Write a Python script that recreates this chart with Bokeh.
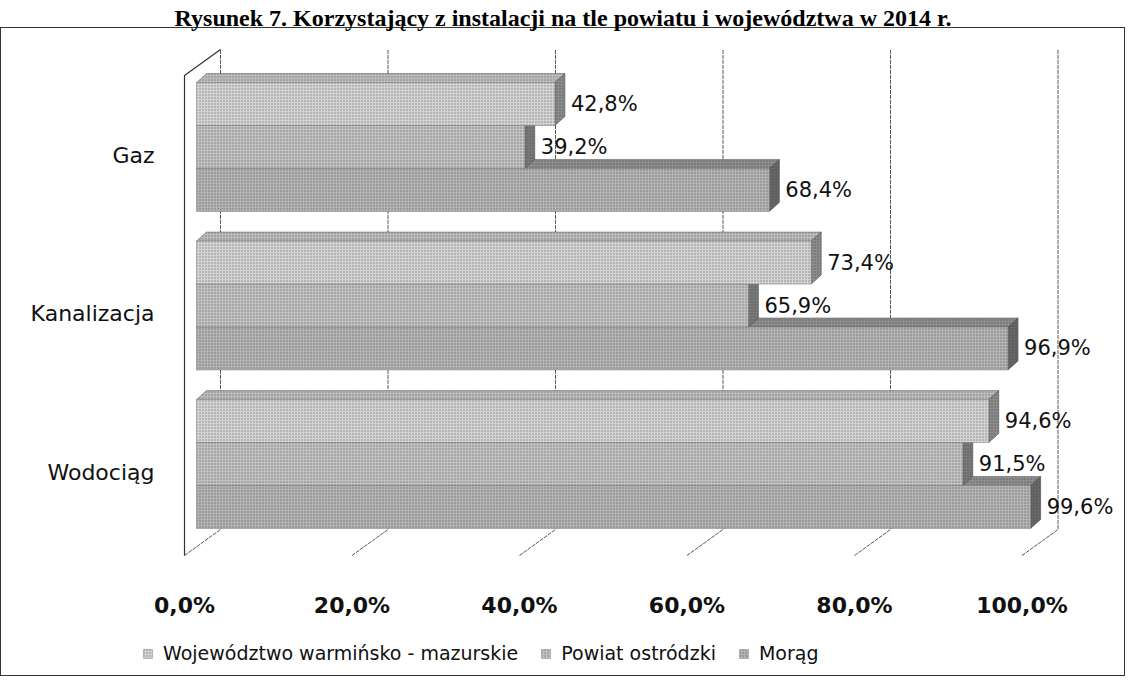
from bokeh.plotting import figure
from bokeh.models import Range1d, FixedTicker, Legend, LegendItem
from bokeh.embed import file_html
from bokeh.resources import INLINE
from bokeh.core.properties import value

# ---------------- data ----------------
title_text = "Rysunek 7. Korzystający z instalacji na tle powiatu i województwa w 2014 r."
categories = ["Gaz", "Kanalizacja", "Wodociąg"]
series_names = ["Województwo warmińsko - mazurskie", "Powiat ostródzki", "Morąg"]
woj = [42.8, 73.4, 94.6]
powiat = [39.2, 65.9, 91.5]
morag = [68.4, 96.9, 99.6]
tick_values = [0, 20, 40, 60, 80, 100]
tick_labels = ["0,0%", "20,0%", "40,0%", "60,0%", "80,0%", "100,0%"]

series_values = [woj, powiat, morag]

# ---------------- layout / style ----------------
W, H = 1125, 668
TITLE_PANEL = 24        # height taken by the title above the frame
FRAME_W = W
FRAME_H = H - TITLE_PANEL
PX_PER_PCT = 8.375
PX_PER_CAT = 158.5
ZERO_X_PX = 184         # frame left -> 0% on front plane
LAST_CAT_Y_PX = 439.5   # frame top -> centre of last category (front plane)
FLOOR_BELOW_PX = 83.5   # floor front edge below last category centre
WALL_ABOVE_PX = 79.5    # wall top above first category centre
XAXIS_BELOW_PX = 93.5   # x axis line below last category centre
YAXIS_LEFT_PX = 12      # y axis line left of 0%
BAR_H = 0.271           # in category units
BORDER_TOP = 27         # canvas px of the chart-area border top line

def off(dx_px, dy_px):
    return dx_px / PX_PER_PCT, -dy_px / PX_PER_CAT

FRONT_DX, FRONT_DY = off(12, -8)   # bar front face from front plane
DEPTH_DX, DEPTH_DY = off(10, -9)   # bar depth
BACK_DX, BACK_DY = off(36, -26)    # back wall from front plane
LABEL_DX = 28 / PX_PER_PCT

x0 = -ZERO_X_PX / PX_PER_PCT
x1 = x0 + FRAME_W / PX_PER_PCT
y0 = -(FRAME_H - LAST_CAT_Y_PX) / PX_PER_CAT
y1 = y0 + FRAME_H / PX_PER_CAT

n = len(categories)
ys = [n - 1 - i for i in range(n)]
FLOOR = -FLOOR_BELOW_PX / PX_PER_CAT
CEIL = (n - 1) + WALL_ABOVE_PX / PX_PER_CAT

front_colors = ["#d4d4d4", "#c2c2c2", "#b4b4b4"]
top_colors = ["#bdbdbd", "#a8a8a8", "#8e8e8e"]
side_colors = ["#8c8c8c", "#7a7a7a", "#686868"]
FONT = "DejaVu Sans"
LINE = "linear-gradient(#333333, #333333)"

p = figure(frame_width=FRAME_W, frame_height=FRAME_H, output_backend="svg",
           toolbar_location=None,
           x_range=Range1d(x0, x1), y_range=Range1d(y0, y1),
           min_border_left=0, min_border_right=0,
           min_border_top=0, min_border_bottom=0)
p.outline_line_color = None
p.xgrid.visible = False
p.ygrid.visible = False
p.background_fill_color = None
p.border_fill_color = None
# thin border around the chart area (below the title), drawn behind the transparent canvas
p.styles = {
    "background-color": "white",
    "background-image": ", ".join([LINE] * 4),
    "background-size": f"100% 1px, 100% 1px, 1px calc(100% - {BORDER_TOP}px), 1px calc(100% - {BORDER_TOP}px)",
    "background-position": f"0 {BORDER_TOP}px, 0 100%, 0 {BORDER_TOP}px, 100% {BORDER_TOP}px",
    "background-repeat": "no-repeat",
}

# title
p.title.text = title_text
p.title.text_font = "Liberation Serif"
p.title.text_font_style = "bold"
p.title.text_font_size = "24px"
p.title.text_color = "#000000"
p.title.align = "center"
p.title.standoff = 4

# gridlines: back wall verticals + floor diagonals
gx, gy = [], []
for t in tick_values:
    gx.append([t, t + BACK_DX, t + BACK_DX])
    gy.append([FLOOR, FLOOR + BACK_DY, CEIL + BACK_DY])
p.multi_line(gx, gy, line_color="#555555", line_width=1, line_dash="4 1")
# left wall
p.line([0, 0, BACK_DX], [FLOOR, CEIL, CEIL + BACK_DY], line_color="#333333", line_width=1.2)

# bars (draw lowest series of each group first)
legend_renderers = {}
for s in reversed(range(len(series_values))):
    vals = series_values[s]
    lefts, rights, tops, bottoms = [], [], [], []
    top_xs, top_ys, side_xs, side_ys = [], [], [], []
    for i, v in enumerate(vals):
        t = ys[i] + 1.5 * BAR_H - s * BAR_H + FRONT_DY
        b = t - BAR_H
        l = 0 + FRONT_DX
        r = v + FRONT_DX
        lefts.append(l); rights.append(r); tops.append(t); bottoms.append(b)
        top_xs.append([l, r, r + DEPTH_DX, l + DEPTH_DX])
        top_ys.append([t, t, t + DEPTH_DY, t + DEPTH_DY])
        side_xs.append([r, r + DEPTH_DX, r + DEPTH_DX, r])
        side_ys.append([t, t + DEPTH_DY, b + DEPTH_DY, b])
    hatch = dict(hatch_pattern="dot", hatch_color="#2e2e2e", hatch_alpha=0.5,
                 hatch_scale=3, hatch_weight=1)
    p.patches(top_xs, top_ys, fill_color=top_colors[s], line_color="#555555",
              line_width=0.5, **hatch)
    p.patches(side_xs, side_ys, fill_color=side_colors[s], line_color="#444444",
              line_width=0.5, **hatch)
    r_front = p.quad(left=lefts, right=rights, top=tops, bottom=bottoms,
                     fill_color=front_colors[s], line_color="#777777", line_width=0.5, **hatch)
    legend_renderers[s] = r_front
    # value labels
    lab_x = [v + LABEL_DX for v in vals]
    lab_y = [(tops[i] + bottoms[i]) / 2 for i in range(len(vals))]
    lab_t = [f"{v:.1f}".replace(".", ",") + "%" for v in vals]
    p.text(x=lab_x, y=lab_y, text=lab_t, text_font=value(FONT), text_font_size="21px",
           text_align="left", text_baseline="middle", text_color="#111111")

# axes (drawn at fixed positions inside the frame)
p.xaxis.fixed_location = -XAXIS_BELOW_PX / PX_PER_CAT
p.xaxis.ticker = FixedTicker(ticks=tick_values)
p.xaxis.major_label_overrides = {t: lab for t, lab in zip(tick_values, tick_labels)}
p.xaxis.axis_line_color = None
p.xaxis.major_tick_line_color = None
p.xaxis.minor_tick_line_color = None
p.xaxis.major_label_standoff = 21
p.xaxis.major_label_text_font = FONT
p.xaxis.major_label_text_font_size = "22px"
p.xaxis.major_label_text_font_style = "bold"
p.xaxis.major_label_text_color = "#111111"

p.yaxis.fixed_location = -YAXIS_LEFT_PX / PX_PER_PCT
p.yaxis.ticker = FixedTicker(ticks=ys)
p.yaxis.major_label_overrides = {ys[i]: categories[i] for i in range(n)}
p.yaxis.axis_line_color = None
p.yaxis.major_tick_line_color = None
p.yaxis.minor_tick_line_color = None
p.yaxis.major_label_standoff = 12
p.yaxis.major_label_text_font = FONT
p.yaxis.major_label_text_font_size = "22px"
p.yaxis.major_label_text_color = "#111111"

legend = Legend(items=[LegendItem(label=series_names[s], renderers=[legend_renderers[s]])
                       for s in range(len(series_names))],
                orientation="horizontal", location=(142, 12))
legend.label_text_font = FONT
legend.label_text_font_size = "19px"
legend.label_text_color = "#111111"
legend.glyph_width = 11
legend.glyph_height = 11
legend.label_standoff = 10
legend.spacing = 22
legend.padding = 0
legend.margin = 0
legend.border_line_color = None
legend.background_fill_alpha = 0
p.add_layout(legend, "center")

open("out.html", "w").write(file_html(p, INLINE))
